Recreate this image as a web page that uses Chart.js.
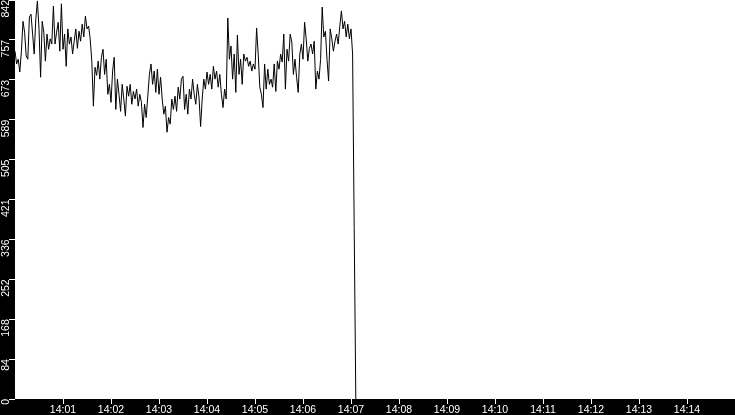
<!DOCTYPE html>
<html><head><meta charset="utf-8">
<script src="https://cdn.jsdelivr.net/npm/chart.js@4.4.0/dist/chart.umd.min.js"></script>
<style>html,body{margin:0;padding:0;background:#000;overflow:hidden;}#wrap{width:735px;height:415px;}</style>
</head><body><div id="wrap"><canvas id="c" width="735" height="415"></canvas></div>
<script>
// time axis: seconds after 14:00, one sample every 2 s
const stepSeconds = 2;
const values = [
  734,707,717,690,734, 797,774,724,717,806,
  812,770,728,802,840, 781,679,797,774,713,
  770,738,760,749,829, 749,774,795,734,834,
  738,770,702,781,749, 764,728,755,781,740,
  776,755,791,764,808, 781,787,760,713,618,
  700,683,713,675,721, 738,685,717,643,664,
  626,692,721,611,675, 643,607,664,633,597,
  660,639,664,622,649, 633,654,618,643,626,
  573,622,594,639,685, 707,664,692,647,696,
  643,679,633,601,618, 563,594,580,633,611,
  639,607,658,633,675, 681,611,643,601,654,
  633,675,643,622,664, 637,575,633,675,654,
  690,664,685,654,702, 675,692,658,685,643,
  615,654,633,804,717, 745,675,728,647,768,
  685,717,664,728,713, 721,702,713,692,707,
  696,783,728,658,643, 615,707,654,696,664,
  675,658,707,649,713, 696,728,711,770,654,
  738,713,770,753,685, 717,679,647,728,749,
  717,795,760,713,740, 749,728,755,654,692,
  675,717,827,764,776, 717,671,781,760,734,
  755,770,749,787,819, 781,797,764,791,760,
  781,728,362,0
];
const xTickLabels = ['14:01','14:02','14:03','14:04','14:05','14:06','14:07','14:08','14:09','14:10','14:11','14:12','14:13','14:14'];
const yTickLabels = ['0','84','168','252','336','421','505','589','673','757','842'];
const yMax = 842;
const xMaxSeconds = 900;

const yStep = yMax / (yTickLabels.length - 1);
const points = values.map((v, i) => ({x: i * stepSeconds, y: v}));

const bgPlugin = {
  id: 'bg',
  beforeDraw(chart) {
    const {ctx, chartArea: a} = chart;
    ctx.save();
    ctx.fillStyle = '#000';
    ctx.fillRect(0, 0, chart.width, chart.height);
    ctx.fillStyle = '#fff';
    ctx.fillRect(a.left, a.top, a.right - a.left, a.bottom - a.top);
    ctx.restore();
  }
};

const font = {family: 'Liberation Sans', size: 10.5};

new Chart(document.getElementById('c'), {
  type: 'line',
  data: {datasets: [{data: points, borderColor: '#000', borderWidth: 1, pointRadius: 0, tension: 0, fill: false}]},
  options: {
    responsive: false, animation: false, devicePixelRatio: 1,
    layout: {padding: 0},
    plugins: {legend: {display: false}, tooltip: {enabled: false}},
    scales: {
      x: {
        type: 'linear', min: 0, max: xMaxSeconds,
        afterBuildTicks: s => { s.ticks = xTickLabels.map((l, i) => ({value: (i + 1) * 60})); },
        afterFit: s => { s.height = 16; s.paddingLeft = 0; s.paddingRight = 0; },
        ticks: {color: '#fff', font, padding: 0, autoSkip: false, maxRotation: 0, minRotation: 0,
          callback: v => xTickLabels[Math.round(v / 60) - 1]},
        grid: {display: true, drawOnChartArea: false, drawTicks: true, tickLength: 5, color: '#fff', tickColor: '#fff'},
        border: {display: false}
      },
      y: {
        type: 'linear', min: 0, max: yMax,
        afterBuildTicks: s => { s.ticks = yTickLabels.map((l, i) => ({value: i * yStep})); },
        afterFit: s => { s.width = 15; s.paddingTop = 0; s.paddingBottom = 0; },
        ticks: {color: '#fff', font, padding: 3, autoSkip: false, minRotation: 90, maxRotation: 90,
          callback: v => yTickLabels[Math.round(v / yStep)]},
        grid: {display: true, drawOnChartArea: false, drawTicks: true, tickLength: 6, color: '#fff', tickColor: '#fff'},
        border: {display: false}
      }
    }
  },
  plugins: [bgPlugin]
});
</script></body></html>
